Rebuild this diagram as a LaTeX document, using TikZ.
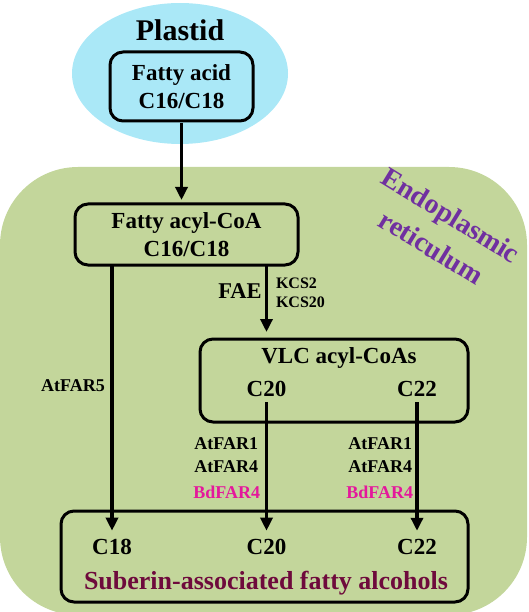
\documentclass[tikz,border=0pt]{standalone}
\usepackage{fontspec}
\setmainfont{Liberation Serif}
\usetikzlibrary{arrows.meta,shapes.geometric,calc}
\definecolor{ergreen}{RGB}{195,214,155}
\definecolor{plastidblue}{RGB}{170,232,247}
\definecolor{erpurple}{RGB}{112,48,160}
\definecolor{bdmagenta}{RGB}{228,24,156}
\definecolor{subred}{RGB}{110,10,60}
\tikzset{
  boxnode/.style={draw=black, line width=3pt, rounded corners=13pt, inner sep=0pt, outer sep=0pt, align=center},
  lbl/.style={inner sep=0pt, outer sep=0pt, anchor=base, font=\bfseries\fontsize{23}{28}\selectfont},
  small/.style={inner sep=0pt, outer sep=0pt, font=\bfseries\fontsize{18}{22}\selectfont},
  tiny/.style={inner sep=0pt, outer sep=0pt, anchor=base west, font=\bfseries\fontsize{16}{19}\selectfont},
  ertext/.style={inner sep=0pt, rotate=-31.5, text=erpurple, font=\bfseries\fontsize{28}{35}\selectfont},
  arr/.style={line width=3.3pt, -{Triangle[length=13pt,width=12pt]}}
}
\begin{document}
\begin{tikzpicture}[x=1pt,y=-1pt]
\useasboundingbox (0,0) rectangle (529,612);
\begin{scope}
\clip (0,0) rectangle (529,612);
\fill[ergreen, rounded corners=78pt] (0,167) rectangle (527,615);
\end{scope}
% plastid
\node[ellipse, fill=plastidblue, draw=none, minimum width=216pt, minimum height=141pt, inner sep=0pt] (plastid) at (180,73.5) {};
\node[lbl, font=\bfseries\fontsize{30}{34}\selectfont] (plastidtxt) at (180,41) {Plastid};
\node[boxnode, fill=plastidblue, minimum width=143pt, minimum height=69pt, font=\bfseries\fontsize{23}{28}\selectfont] (fa) at (181.5,86.5) {Fatty acid\\C16/C18};
% ER label
\node[ertext] (ertxt1) at (449.6,217.6) {Endoplasmic};
\node[ertext] (ertxt2) at (431.4,247.4) {reticulum};
% acyl-CoA
\node[boxnode, minimum width=223pt, minimum height=61pt, font=\bfseries\fontsize{23}{28}\selectfont] (acyl) at (186.5,234.5) {Fatty acyl-CoA\\C16/C18};
% VLC box
\node[boxnode, minimum width=268pt, minimum height=83pt] (vlc) at (334,380.5) {};
\node[lbl] (vlctxt) at (339,363) {VLC acyl-CoAs};
\node[lbl] (vc20) at (266.5,396) {C20};
\node[lbl] (vc22) at (417,396) {C22};
% bottom box
\node[boxnode, minimum width=407pt, minimum height=91pt] (alc) at (264.5,556.5) {};
\node[lbl] (bc18) at (112,554) {C18};
\node[lbl] (bc20) at (266.5,554) {C20};
\node[lbl] (bc22) at (417,554) {C22};
\node[lbl, text=subred, font=\bfseries\fontsize{26}{30}\selectfont] (subtxt) at (266,589) {Suberin-associated fatty alcohols};
% labels
\node[small, anchor=base] (far5) at (73,391) {AtFAR5};
\node[lbl, font=\bfseries\fontsize{22.5}{26}\selectfont] (fae) at (240,298) {FAE};
\node[tiny] (kcs2) at (276,288) {KCS2};
\node[tiny] (kcs20) at (276,307) {KCS20};
\node[small, anchor=base east] (l1) at (258,449) {AtFAR1};
\node[small, anchor=base east] (l4) at (258,472) {AtFAR4};
\node[small, anchor=base east, text=bdmagenta] (lb) at (260,498) {BdFAR4};
\node[small, anchor=base east] (r1) at (412,449) {AtFAR1};
\node[small, anchor=base east] (r4) at (412,472) {AtFAR4};
\node[small, anchor=base east, text=bdmagenta] (rb) at (413,498) {BdFAR4};
% arrows
\draw[arr, shorten <=2pt, shorten >=4pt] (fa.south) -- (fa.south |- acyl.north);
\draw[arr, shorten <=1pt, shorten >=8pt] (acyl.south -| bc18) -- (bc18.north);
\draw[arr, shorten <=1pt, shorten >=7pt] (acyl.south -| vc20) -- (vc20 |- vlc.north);
\draw[arr, shorten <=6pt, shorten >=8pt] (vc20.south) -- (bc20.north);
\draw[arr, shorten <=6pt, shorten >=8pt] (vc22.south) -- (bc22.north);
\end{tikzpicture}
\end{document}
